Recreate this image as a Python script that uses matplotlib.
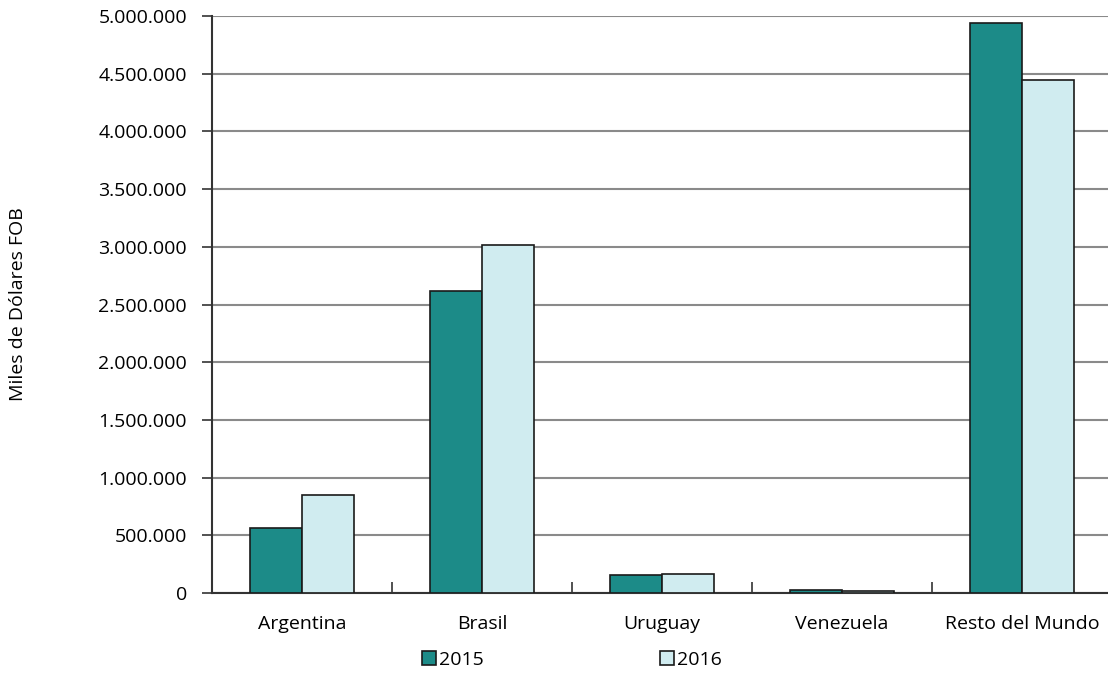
import matplotlib.pyplot as plt
import matplotlib.ticker as mticker
import numpy as np

plt.rcParams['font.family'] = ['Open Sans', 'DejaVu Sans']

# data (miles de dolares FOB)
paises = ['Argentina', 'Brasil', 'Uruguay', 'Venezuela', 'Resto del Mundo']
valores_2015 = [566000, 2620000, 153000, 29000, 4942000]
valores_2016 = [852000, 3013000, 165000, 20000, 4443000]
anios = ['2015', '2016']

color_2015 = '#1c8b88'
color_2016 = '#d0ecf0'
borde = '#1a1a1a'

fig = plt.figure(figsize=(11.08, 6.88), dpi=100)
# axes: left 212px, bottom 593px, top 16px, width 900px (runs slightly past the right edge)
ax = fig.add_axes([212 / 1108, (688 - 593) / 688, 900 / 1108, (593 - 16) / 688])

x = np.arange(len(paises))
w = 0.287
b1 = ax.bar(x - w / 2, valores_2015, w, color=color_2015, edgecolor=borde, linewidth=1.2, zorder=3)
b2 = ax.bar(x + w / 2, valores_2016, w, color=color_2016, edgecolor=borde, linewidth=1.2, zorder=3)

ax.set_xlim(-0.5, len(paises) - 0.5)
ax.set_ylim(0, 5000000)
ax.yaxis.set_major_locator(mticker.MultipleLocator(500000))
ax.yaxis.set_major_formatter(mticker.FuncFormatter(lambda v, p: f'{int(v):,}'.replace(',', '.')))
ax.grid(axis='y', color='#8a8a8a', linewidth=1.5, zorder=0)

ax.set_xticks(x)
ax.set_xticklabels(paises)
ax.set_xticks(np.arange(0.5, len(paises) - 1, 1), minor=True)
ax.tick_params(axis='x', which='major', length=0, pad=16, labelsize=14)
ax.tick_params(axis='x', which='minor', direction='in', length=8, width=1.2, color='#333333')
ax.tick_params(axis='y', direction='out', length=7, width=1.2, color='#333333', labelsize=14, pad=11)

for s in ['top', 'right']:
    ax.spines[s].set_visible(False)
for s in ['left', 'bottom']:
    ax.spines[s].set_color('#333333')
    ax.spines[s].set_linewidth(1.5)

ax.set_ylabel('Miles de Dólares FOB', fontsize=14)
ax.yaxis.set_label_coords(-185 / 900, 0.5)

leg = fig.legend([b1, b2], anios, loc='center', bbox_to_anchor=(572 / 1108, 1 - 660 / 688),
                 ncol=2, frameon=False, fontsize=14, handlelength=0.7, handleheight=0.7,
                 handletextpad=0.15, columnspacing=9.1)

fig.savefig('out.png', dpi=100)
